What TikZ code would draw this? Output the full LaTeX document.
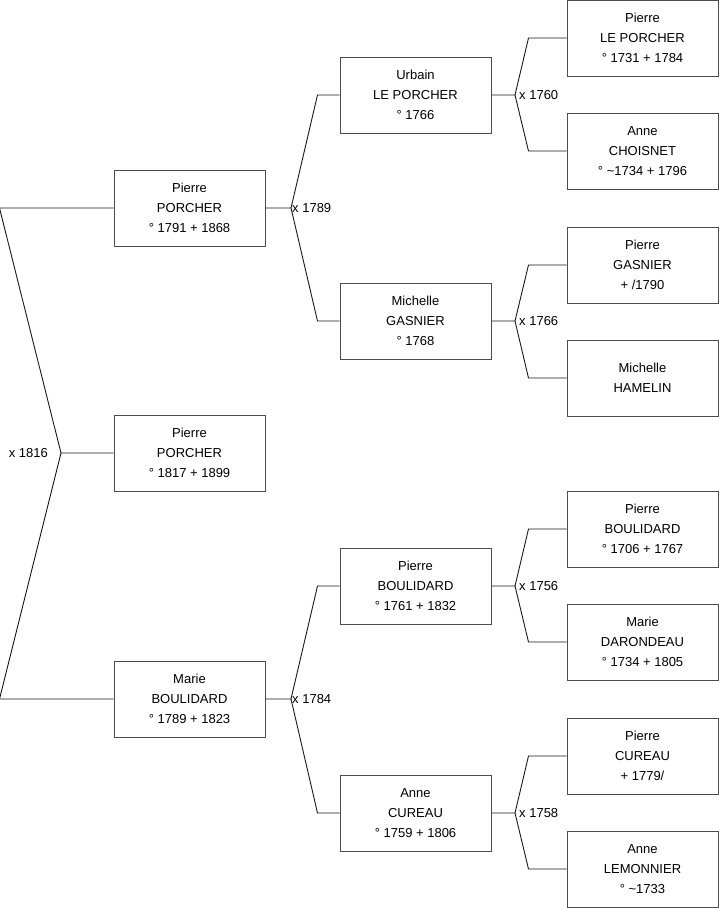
\documentclass[tikz,border=0pt]{standalone}
\usepackage{fontspec}
\setmainfont{Liberation Sans}
\usetikzlibrary{positioning}

\begin{document}
\begin{tikzpicture}[
    x=1pt, y=-1pt,
    person/.style={rectangle, draw=black!70, line width=1pt, minimum width=151pt, minimum height=76pt, align=center, inner sep=0pt, font=\fontsize{13}{20}\selectfont},
    link/.style={draw=black!90, line width=0.9pt},
    union/.style={inner sep=1pt, font=\fontsize{13}{15}\selectfont}
]
    \useasboundingbox (0,0) rectangle (719,908);

    % generation 1
    \node[person] (pierre1791) at (189.5,208) {Pierre\\PORCHER\\° 1791 + 1868};
    \node[person] (pierre1817) at (189.5,453) {Pierre\\PORCHER\\° 1817 + 1899};
    \node[person] (marie1789) at (189.5,699) {Marie\\BOULIDARD\\° 1789 + 1823};

    % generation 2
    \node[person] (urbain) at (415.5,95) {Urbain\\LE PORCHER\\° 1766};
    \node[person] (michelle1768) at (415.5,321) {Michelle\\GASNIER\\° 1768};
    \node[person] (pierre1761) at (415.5,586) {Pierre\\BOULIDARD\\° 1761 + 1832};
    \node[person] (anne1759) at (415.5,813) {Anne\\CUREAU\\° 1759 + 1806};

    % generation 3
    \node[person] (pierre1731) at (642.5,38) {Pierre\\LE PORCHER\\° 1731 + 1784};
    \node[person] (anne1734) at (642.5,151) {Anne\\CHOISNET\\° \textasciitilde1734 + 1796};
    \node[person] (pierre1790) at (642.5,265) {Pierre\\GASNIER\\+ /1790};
    \node[person] (michelleH) at (642.5,378) {Michelle\\HAMELIN};
    \node[person] (pierre1706) at (642.5,529) {Pierre\\BOULIDARD\\° 1706 + 1767};
    \node[person] (marie1734) at (642.5,642) {Marie\\DARONDEAU\\° 1734 + 1805};
    \node[person] (pierre1779) at (642.5,756) {Pierre\\CUREAU\\+ 1779/};
    \node[person] (anne1733) at (642.5,869) {Anne\\LEMONNIER\\° \textasciitilde1733};

    % unions
    \coordinate (m1816) at (61,453);
    \coordinate (m1789) at (291,208);
    \coordinate (m1784) at (291,699);
    \coordinate (m1760) at (515,95);
    \coordinate (m1766) at (515,321);
    \coordinate (m1756) at (515,586);
    \coordinate (m1758) at (515,813);

    \node[union, anchor=east, xshift=-12pt] (l1816) at (m1816) {x 1816};
    \node[union, anchor=west] (l1789) at (m1789) {x 1789};
    \node[union, anchor=west] (l1784) at (m1784) {x 1784};
    \node[union, anchor=west, xshift=3pt] (l1760) at (m1760) {x 1760};
    \node[union, anchor=west, xshift=3pt] (l1766) at (m1766) {x 1766};
    \node[union, anchor=west, xshift=3pt] (l1756) at (m1756) {x 1756};
    \node[union, anchor=west, xshift=3pt] (l1758) at (m1758) {x 1758};

    % connectors
    \draw[link] (pierre1817.west) -- (m1816) -- ([xshift=-114pt]pierre1791.west) -- (pierre1791.west);
    \draw[link] (m1816) -- ([xshift=-114pt]marie1789.west) -- (marie1789.west);

    \draw[link] (pierre1791.east) -- (m1789) -- ([xshift=-22pt]urbain.west) -- (urbain.west);
    \draw[link] (m1789) -- ([xshift=-22pt]michelle1768.west) -- (michelle1768.west);
    \draw[link] (marie1789.east) -- (m1784) -- ([xshift=-22pt]pierre1761.west) -- (pierre1761.west);
    \draw[link] (m1784) -- ([xshift=-22pt]anne1759.west) -- (anne1759.west);

    \draw[link] (urbain.east) -- (m1760) -- ([xshift=-38pt]pierre1731.west) -- (pierre1731.west);
    \draw[link] (m1760) -- ([xshift=-38pt]anne1734.west) -- (anne1734.west);
    \draw[link] (michelle1768.east) -- (m1766) -- ([xshift=-38pt]pierre1790.west) -- (pierre1790.west);
    \draw[link] (m1766) -- ([xshift=-38pt]michelleH.west) -- (michelleH.west);
    \draw[link] (pierre1761.east) -- (m1756) -- ([xshift=-38pt]pierre1706.west) -- (pierre1706.west);
    \draw[link] (m1756) -- ([xshift=-38pt]marie1734.west) -- (marie1734.west);
    \draw[link] (anne1759.east) -- (m1758) -- ([xshift=-38pt]pierre1779.west) -- (pierre1779.west);
    \draw[link] (m1758) -- ([xshift=-38pt]anne1733.west) -- (anne1733.west);
\end{tikzpicture}
\end{document}
